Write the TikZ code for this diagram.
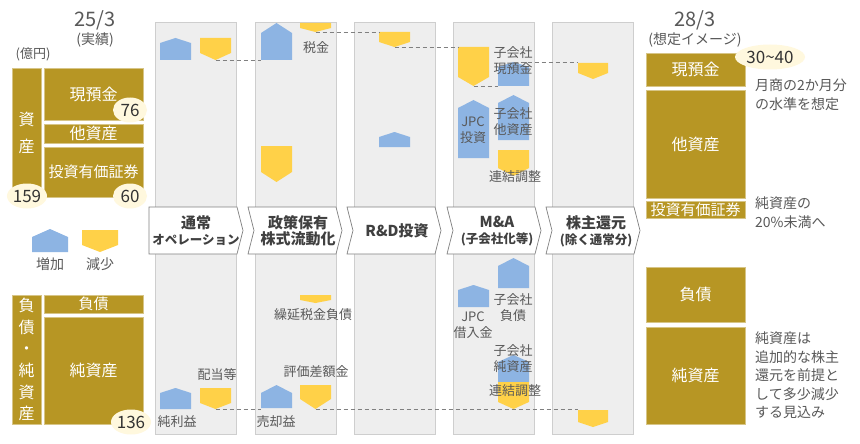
\documentclass[tikz,border=0pt]{standalone}
\usepackage{fontspec}
\setmainfont{Noto Sans CJK JP}
\usetikzlibrary{shapes.geometric}
\definecolor{gold}{RGB}{183,150,36}
\definecolor{incblue}{RGB}{141,180,227}
\definecolor{decyellow}{RGB}{255,209,72}
\definecolor{cream}{RGB}{255,248,222}
\definecolor{txtgray}{RGB}{89,89,89}
\definecolor{panelgray}{RGB}{238,238,238}
\definecolor{edgegray}{RGB}{206,206,206}
\newcommand{\fsz}[1]{\fontsize{#1}{#1}\selectfont}
\tikzset{
  panel/.style={draw=edgegray, fill=panelgray, anchor=north west,
                minimum width=81, minimum height=412, inner sep=0},
  goldbox/.style={draw=gold!55!white, fill=gold, text=white, anchor=north west,
                  minimum width=99, inner sep=0, font=\fsz{16}},
  numtag/.style={ellipse, fill=cream, inner sep=0, minimum height=25,
                 minimum width=34, text=black!80, font=\fsz{17}},
  stagebox/.style={draw=black!50, fill=white, line width=0.7},
  stagetxt/.style={align=center, text=black!75, inner sep=0,
                   font=\bfseries\fontsize{15}{16}\selectfont},
  lbl/.style={text=txtgray, align=center, inner sep=0, font=\fontsize{13}{16}\selectfont},
  note/.style={text=txtgray, align=left, anchor=north west, inner sep=0,
               font=\fontsize{14}{18.5}\selectfont},
  lvl/.style={draw=black!50, dash pattern=on 4pt off 3pt, line width=0.7},
}
% blue block: name, left x, width, peak y, shoulder y, bottom y
\newcommand{\upblk}[6]{\fill[incblue] (#2,#6) -- (#2,#5) -- (#2+#3/2,#4) -- (#2+#3,#5) -- (#2+#3,#6) -- cycle;
  \coordinate (#1-n) at (#2+#3/2,#4);
  \coordinate (#1-sw) at (#2,#6);}
% yellow block: name, left x, width, top y, shoulder y, tip y
\newcommand{\dnblk}[6]{\fill[decyellow] (#2,#4) -- (#2,#5) -- (#2+#3/2,#6) -- (#2+#3,#5) -- (#2+#3,#4) -- cycle;
  \coordinate (#1-nw) at (#2,#4);
  \coordinate (#1-s) at (#2+#3/2,#6);}
% chevron: name, left x, notch depth, text
\newcommand{\stagechev}[4]{\draw[stagebox] (#2,207) -- (#2+88,207) -- (#2+94,230.5) -- (#2+88,254)
    -- (#2,254) -- (#2+#3,230.5) -- cycle;
  \node[stagetxt] (#1) at (#2+47+#3/2,231) {#4};}
\begin{document}
\begin{tikzpicture}[x=1pt, y=-1pt]
    \useasboundingbox[fill=white] (0,0) rectangle (860,444);
    % headers
    \node[lbl, font=\fsz{20}] (hd25) at (95,20) {25/3};
    \node[lbl, font=\fsz{14}] (hd25s) at (95,40) {(実績)};
    \node[lbl] (unit) at (33,54) {(億円)};
    \node[lbl, font=\fsz{20}] (hd28) at (695,20) {28/3};
    \node[lbl, font=\fsz{14}] (hd28s) at (695,40) {(想定イメージ)};
    % columns and stages
    \foreach \i/\x in {1/155,2/255,3/354,4/453,5/552}
      \node[panel] (col\i) at (\x,22) {};
    \stagechev{st1}{149}{0}{通常\\{\fsz{12.5}オペレーション}}
    \stagechev{st2}{248}{6}{政策保有\\株式流動化}
    \stagechev{st3}{347}{6}{R\&D投資}
    \stagechev{st4}{447}{6}{M\&A\\{\fsz{12.5}(子会社化等)}}
    \stagechev{st5}{546}{6}{株主還元\\{\fsz{12.5}(除く通常分)}}
    % 25/3
    \node[goldbox, minimum width=29, minimum height=129, align=center,
          font=\fontsize{16}{27}\selectfont] (assets) at (12,68) {資\\産};
    \node[goldbox, minimum height=52] (cash) at (44,68) {現預金};
    \node[goldbox, minimum height=19] (other) at (44,124) {他資産};
    \node[goldbox, minimum height=50, font=\fsz{15}] (secs) at (44,147) {投資有価証券};
    \node[goldbox, minimum width=29, minimum height=129, align=center,
          font=\fontsize{16}{21.6}\selectfont] (liabeq) at (12,295) {負\\債\\・\\純\\資\\産};
    \node[goldbox, minimum height=18, font=\fsz{15}] (liab) at (44,295) {負債};
    \node[goldbox, minimum height=107] (equity) at (44,317) {純資産};
    \node[numtag] (n76) at (130,110) {76};
    \node[numtag] (n159) at (27,196) {159};
    \node[numtag] (n60) at (130,196) {60};
    \node[numtag] (n136) at (131,422) {136};
    % legend
    \upblk{leginc}{32}{36}{229}{237}{252}
    \dnblk{legdec}{82}{36}{230}{245}{252}
    \node[lbl, font=\fsz{14}] (inctxt) at (50,264) {増加};
    \node[lbl, font=\fsz{14}] (dectxt) at (100,264) {減少};
    % normal operation
    \upblk{opinc}{160}{31}{38}{43}{60}
    \dnblk{opdec}{200}{31}{38}{53}{60}
    \upblk{netinc}{160}{31}{388}{393}{409}
    \dnblk{divs}{200}{31}{388}{403}{409}
    \node[lbl] (netinctxt) at (177,422) {純利益};
    \node[lbl] (divstxt) at (217,375) {配当等};
    % policy shareholdings
    \upblk{polinc}{261}{31}{23}{33}{60}
    \dnblk{tax}{300}{31}{23}{28}{32}
    \dnblk{poldec}{261}{31}{146}{172}{182}
    \dnblk{deftax}{300}{31}{295}{300}{303}
    \upblk{salegain}{261}{31}{385}{393}{408}
    \dnblk{valdiff}{300}{31}{385}{399}{409}
    \node[lbl] (taxtxt) at (316,48) {税金};
    \node[lbl] (deftaxtxt) at (313,315) {繰延税金負債};
    \node[lbl] (valdifftxt) at (316,372) {評価差額金};
    \node[lbl] (saletxt) at (276,422) {売却益};
    % R&D
    \dnblk{rddec}{379}{31}{32}{42}{47}
    \upblk{rdinc}{379}{31}{132}{137}{147}
    % M&A
    \dnblk{madec}{458}{31}{47}{77}{86}
    \upblk{subcash}{498}{31}{62}{67}{86}
    \upblk{jpcinv}{458}{31}{100}{108}{158}
    \upblk{subasset}{498}{31}{95}{103}{140}
    \dnblk{consadj}{498}{31}{150}{168}{176}
    \upblk{jpcloan}{458}{31}{285}{290}{307}
    \upblk{subliab}{498}{31}{258}{266}{288}
    \upblk{subeq}{498}{31}{355}{362}{382}
    \dnblk{consadj2}{498}{31}{382}{402}{409}
    \node[lbl] (subcashtxt) at (513,61) {子会社\\現預金};
    \node[lbl] (jpcinvtxt) at (473,130) {JPC\\投資};
    \node[lbl] (subassettxt) at (513,122) {子会社\\他資産};
    \node[lbl] (consadjtxt) at (515,177) {連結調整};
    \node[lbl] (jpcloantxt) at (473,325) {JPC\\借入金};
    \node[lbl] (subliabtxt) at (513,308) {子会社\\負債};
    \node[lbl] (subeqtxt) at (513,359) {子会社\\純資産};
    \node[lbl] (consadj2txt) at (515,391) {連結調整};
    % shareholder returns
    \dnblk{retdec}{578}{30}{63}{73}{79}
    \dnblk{retdec2}{578}{30}{410}{422}{427}
    % levels
    \draw[lvl] (opdec-s) -- (opdec-s -| polinc-sw);
    \draw[lvl] (tax-s) -- (tax-s -| rddec-nw);
    \draw[lvl] (rddec-s) -- (rddec-s -| madec-nw);
    \draw[lvl] (madec-s) -- (madec-s -| subcash-sw);
    \draw[lvl] (subcash-n) -- (subcash-n -| retdec-nw);
    \draw[lvl] (divs-s) -- (divs-s -| salegain-sw);
    \draw[lvl] (valdiff-s) -- (valdiff-s -| retdec2-nw);
    % 28/3
    \node[goldbox, minimum height=33] (cash28) at (646,53) {現預金};
    \node[goldbox, minimum height=108] (other28) at (646,90) {他資産};
    \node[goldbox, minimum height=17, font=\fsz{15}] (secs28) at (646,201) {投資有価証券};
    \node[goldbox, minimum height=55] (liab28) at (646,267) {負債};
    \node[goldbox, minimum height=97] (equity28) at (646,327) {純資産};
    \node[numtag, minimum width=70] (n3040) at (770,57) {30\textasciitilde 40};
    \node[note] (cashnote) at (755,79) {月商の2か月分\\の水準を想定};
    \node[note] (secnote) at (755,197) {純資産の\\20\%未満へ};
    \node[note] (eqnote) at (755,332) {純資産は\\追加的な株主\\還元を前提と\\して多少減少\\する見込み};
\end{tikzpicture}
\end{document}
